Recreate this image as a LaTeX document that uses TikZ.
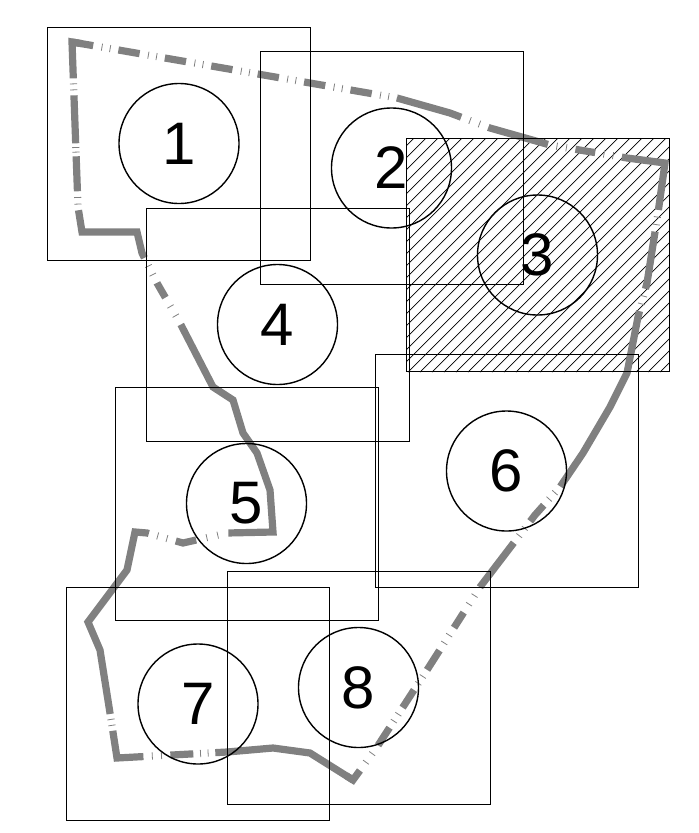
\documentclass[tikz,border=0pt]{standalone}
\usepackage{fontspec}
\setmainfont{Liberation Sans}
\definecolor{routegray}{RGB}{128,128,128}
\begin{document}
\begin{tikzpicture}[x=1pt,y=-1pt,
  box/.style={draw=black, line width=1pt, minimum width=263pt, minimum height=233pt, inner sep=0pt},
  circ/.style={draw=black, line width=1.4pt, circle, minimum size=120pt, inner sep=0pt, font=\fontsize{60}{60}\selectfont},
  route/.style={draw=routegray, line width=7.2pt, line join=miter, line cap=butt},
  hatchline/.style={line width=0.7pt, black}]
\useasboundingbox (0,0) rectangle (699,833);
% route vertices
\coordinate (p0) at (72,42);
\coordinate (p1) at (397,98);
\coordinate (p2) at (450,113);
\coordinate (p3) at (490,128);
\coordinate (p4) at (550,145);
\coordinate (p5) at (627,158);
\coordinate (p6) at (665,163);
\coordinate (p7) at (658,213);
\coordinate (p8) at (647,283);
\coordinate (p9) at (638,317);
\coordinate (p10) at (627,373);
\coordinate (p11) at (610,407);
\coordinate (p12) at (583,453);
\coordinate (p13) at (560,487);
\coordinate (p14) at (535,515);
\coordinate (p15) at (480,587);
\coordinate (p16) at (427,670);
\coordinate (p17) at (377,747);
\coordinate (p18) at (353,780);
\coordinate (p18x) at (346.2,775.7);
\coordinate (p19) at (310,753);
\coordinate (p20) at (273,748);
\coordinate (p21) at (227,752);
\coordinate (p22) at (117,758);
\coordinate (p23) at (110,713);
\coordinate (p24) at (100,650);
\coordinate (p25) at (88,622);
\coordinate (p26) at (127,570);
\coordinate (p27) at (135,532);
\coordinate (p28) at (147,533);
\coordinate (p29) at (183,543);
\coordinate (p30) at (227,533);
\coordinate (p31) at (273,532);
\coordinate (p32) at (270,490);
\coordinate (p33) at (257,453);
\coordinate (p34) at (243,433);
\coordinate (p35) at (233,400);
\coordinate (p36) at (213,387);
\coordinate (p37) at (180,323);
\coordinate (p38) at (157,283);
\coordinate (p39) at (142,253);
\coordinate (p40) at (137,232);
\coordinate (p41) at (82,232);
\coordinate (p42) at (78,207);
\coordinate (p0x) at (82,43.7);
% hatching of box 3
\begin{scope}
\clip (406,138) rectangle (669,372);
\foreach \k in {0,...,45} {
  \draw[hatchline] ({168+\k*12},372) -- ++(240,-240);
}
\end{scope}
% route
\draw[route, dash pattern=on 21.5pt off 8.5pt on 0.8pt off 7.5pt on 0.8pt off 8pt]
  (p0) -- (p1);
\draw[route, dash pattern=on 67pt off 9.1pt on 0.8pt off 9.2pt on 0.8pt off 9.1pt on 62pt off 8.8pt on 0.8pt off 8.8pt on 0.8pt off 8.8pt on 20pt off 8.5pt on 0.8pt off 8.4pt on 0.8pt off 8.5pt on 91pt off 6.8pt on 0.8pt off 6.8pt on 0.8pt off 6.8pt on 58pt off 7.1pt on 0.8pt off 7.2pt on 0.8pt off 7.1pt on 195pt off 7.8pt on 0.8pt off 7.8pt on 0.8pt off 7.8pt on 21pt off 8.5pt on 0.8pt off 8.4pt on 0.8pt off 8.5pt on 56pt off 9.5pt on 0.8pt off 9.4pt on 0.8pt off 9.5pt on 18pt off 8.5pt on 0.8pt off 8.4pt on 0.8pt off 8.5pt on 23pt off 7.5pt on 0.8pt off 7.4pt on 0.8pt off 7.5pt on 21pt off 7.5pt on 0.8pt off 7.4pt on 0.8pt off 7.5pt on 21pt off 9.8pt on 0.8pt off 9.8pt on 0.8pt off 9.8pt on 40pt]
  (p1) -- (p2) -- (p3) -- (p4) -- (p5) -- (p6) -- (p7) -- (p8) -- (p9) -- (p10) -- (p11) -- (p12) -- (p13) -- (p14) -- (p15) -- (p16) -- (p17) -- (p18) -- (p18x);
\draw[route, dash pattern=on 146pt off 6.8pt on 0.8pt off 6.8pt on 0.8pt off 6.8pt on 23pt off 8.5pt on 0.8pt off 8.4pt on 0.8pt off 8.5pt on 54pt off 5.1pt on 0.8pt off 5.2pt on 0.8pt off 5.1pt on 213pt off 8.8pt on 0.8pt off 8.8pt on 0.8pt off 8.8pt on 21pt off 10.5pt on 0.8pt off 10.4pt on 0.8pt off 10.5pt on 279pt off 9.8pt on 0.8pt off 9.8pt on 0.8pt off 9.8pt on 17pt off 8.8pt on 0.8pt off 8.8pt on 0.8pt off 8.8pt on 104pt off 5.8pt on 0.8pt off 5.8pt on 0.8pt off 5.8pt on 35pt off 3.8pt on 0.8pt off 3.8pt on 0.8pt off 3.8pt on 48pt off 5.1pt on 0.8pt off 5.2pt on 0.8pt off 5.1pt on 60pt]
  (p18) -- (p19) -- (p20) -- (p21) -- (p22) -- (p23) -- (p24) -- (p25) -- (p26) -- (p27) -- (p28) -- (p29) -- (p30) -- (p31) -- (p32) -- (p33) -- (p34) -- (p35) -- (p36) -- (p37) -- (p38) -- (p39) -- (p40) -- (p41) -- (p42) -- (p0) -- (p0x);
% boxes
\node[box] (r1) at (179,143.5) {};
\node[box] (r2) at (391.5,168) {};
\node[box] (r3) at (537.5,255) {};
\node[box] (r4) at (277.5,324.5) {};
\node[box] (r5) at (246.5,503.5) {};
\node[box] (r6) at (506.5,471) {};
\node[box] (r7) at (198,704) {};
\node[box] (r8) at (358.5,687.5) {};
% circles
\node[circ] (c1) at (179,143.5) {1};
\node[circ] (c2) at (391.5,168) {2};
\node[circ] (c3) at (537.5,255) {3};
\node[circ] (c4) at (277.5,324.5) {4};
\node[circ] (c5) at (246.5,503.5) {5};
\node[circ] (c6) at (506.5,471) {6};
\node[circ] (c7) at (198,704) {7};
\node[circ] (c8) at (358.5,687.5) {8};
\end{tikzpicture}
\end{document}
